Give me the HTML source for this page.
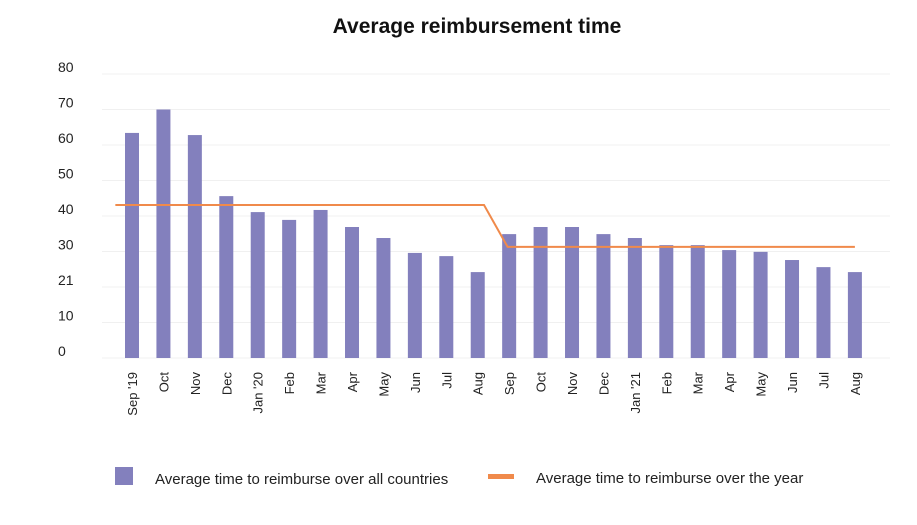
<!DOCTYPE html>
<html><head><meta charset="utf-8"><style>
body{margin:0;background:#fff;font-family:"Liberation Sans",sans-serif}
svg text{font-family:"Liberation Sans",sans-serif}
</style></head><body>
<svg id="chart" width="917" height="520" xmlns="http://www.w3.org/2000/svg">
<text x="477" y="33" text-anchor="middle" font-size="21" font-weight="bold" fill="#111">Average reimbursement time</text>
<g id="grid"></g><g id="bars"></g><g id="line"></g><g id="xlabels"></g>
<g>
<rect x="115" y="467" width="18" height="18" fill="#8380bd"/>
<text x="155" y="484" font-size="15" fill="#222">Average time to reimburse over all countries</text>
<rect x="488" y="474" width="26" height="5" fill="#f08a4b"/>
<text x="536" y="483" font-size="15" fill="#222">Average time to reimburse over the year</text>
</g>
</svg>
<script>
const categories=["Sep '19","Oct","Nov","Dec","Jan '20","Feb","Mar","Apr","May","Jun","Jul","Aug","Sep","Oct","Nov","Dec","Jan '21","Feb","Mar","Apr","May","Jun","Jul","Aug"];
const barValues=[63.4,70,62.8,45.6,41.1,38.9,41.7,36.9,33.8,29.6,28.7,24.2,34.9,36.9,36.9,34.9,33.8,31.8,31.8,30.4,29.9,27.6,25.6,24.2];
const yearAvg=[43.1,31.3];
const yTicks=[0,10,20,30,40,50,60,70,80];
const yTickLabels=["0","10","21","30","40","50","60","70","80"];
const NS="http://www.w3.org/2000/svg";
const y=v=>358-v*3.55;
const x=i=>132+i*31.43;
function mk(tag,attrs,parent){const e=document.createElementNS(NS,tag);for(const k in attrs)e.setAttribute(k,attrs[k]);document.getElementById(parent).appendChild(e);return e;}
yTicks.forEach((t,i)=>{
  const l=mk('line',{x1:102,x2:890,y1:y(t),y2:y(t),stroke:'#f0f0f0','stroke-width':1},'grid');
  
  
  const tx=mk('text',{x:58,y:y(t)-2,'font-size':14,fill:'#222'},'grid');
  tx.textContent=yTickLabels[i];
  
  
});
barValues.forEach((v,i)=>{
  const r=mk('rect',{x:x(i)-7,y:y(v),width:14,height:y(0)-y(v),fill:'#8380bd'},'bars');
  
  
  const t=mk('text',{transform:`translate(${x(i)+5},372) rotate(-90)`,'text-anchor':'end','font-size':13,fill:'#222'},'xlabels');
  t.textContent=categories[i];
  
  
});
const pts=[[x(-0.53),y(yearAvg[0])],[x(11.2),y(yearAvg[0])],[x(11.95),y(yearAvg[1])],[x(23),y(yearAvg[1])]];
const p=mk('polyline',{points:pts.map(q=>q.join(',')).join(' '),fill:'none',stroke:'#f08a4b','stroke-width':2},'line');


</script>
</body></html>
